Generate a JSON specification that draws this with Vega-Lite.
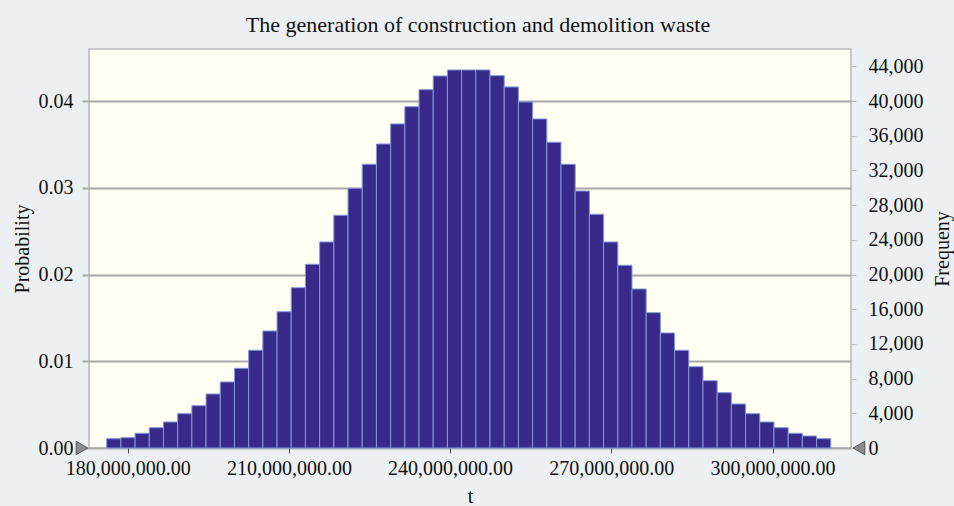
{
  "$schema": "https://vega.github.io/schema/vega-lite/v6.json",
  "autosize": "none",
  "width": 762,
  "height": 399,
  "padding": {"left": 89, "top": 49, "right": 103, "bottom": 58},
  "background": "#edf0f3",
  "config": {
    "font": "Liberation Serif",
    "view": {"fill": "#fefef3", "stroke": "#b8b8b8", "strokeWidth": 1.5},
    "axis": {"labelFont": "Liberation Serif", "titleFont": "Liberation Serif", "labelFontSize": 20, "titleFontSize": 20, "labelColor": "#111", "titleColor": "#111", "titleFontWeight": "normal", "labelOverlap": false}
  },
  "title": {
    "text": "The generation of construction and demolition waste",
    "fontSize": 22,
    "fontWeight": "normal",
    "font": "Liberation Serif",
    "color": "#111",
    "anchor": "middle",
    "frame": "group",
    "offset": 12,
    "dx": 8
  },
  "datasets": {
    "bins": [
      {"start": 176090000, "end": 178732000, "freq": 1072},
      {"start": 178732000, "end": 181374000, "freq": 1188},
      {"start": 181374000, "end": 184016000, "freq": 1695},
      {"start": 184016000, "end": 186658000, "freq": 2341},
      {"start": 186658000, "end": 189300000, "freq": 2998},
      {"start": 189300000, "end": 191942000, "freq": 3955},
      {"start": 191942000, "end": 194584000, "freq": 4877},
      {"start": 194584000, "end": 197226000, "freq": 6226},
      {"start": 197226000, "end": 199868000, "freq": 7610},
      {"start": 199868000, "end": 202510000, "freq": 9189},
      {"start": 202510000, "end": 205152000, "freq": 11265},
      {"start": 205152000, "end": 207794000, "freq": 13490},
      {"start": 207794000, "end": 210436000, "freq": 15716},
      {"start": 210436000, "end": 213078000, "freq": 18483},
      {"start": 213078000, "end": 215720000, "freq": 21181},
      {"start": 215720000, "end": 218362000, "freq": 23752},
      {"start": 218362000, "end": 221004000, "freq": 26830},
      {"start": 221004000, "end": 223646000, "freq": 29943},
      {"start": 223646000, "end": 226288000, "freq": 32711},
      {"start": 226288000, "end": 228930000, "freq": 35051},
      {"start": 228930000, "end": 231572000, "freq": 37357},
      {"start": 231572000, "end": 234214000, "freq": 39352},
      {"start": 234214000, "end": 236856000, "freq": 41312},
      {"start": 236856000, "end": 239498000, "freq": 42892},
      {"start": 239498000, "end": 242140000, "freq": 43583},
      {"start": 242140000, "end": 244782000, "freq": 43583},
      {"start": 244782000, "end": 247424000, "freq": 43583},
      {"start": 247424000, "end": 250066000, "freq": 42926},
      {"start": 250066000, "end": 252708000, "freq": 41623},
      {"start": 252708000, "end": 255350000, "freq": 39894},
      {"start": 255350000, "end": 257992000, "freq": 37934},
      {"start": 257992000, "end": 260634000, "freq": 35247},
      {"start": 260634000, "end": 263276000, "freq": 32711},
      {"start": 263276000, "end": 265918000, "freq": 29632},
      {"start": 265918000, "end": 268560000, "freq": 26946},
      {"start": 268560000, "end": 271202000, "freq": 23752},
      {"start": 271202000, "end": 273844000, "freq": 21065},
      {"start": 273844000, "end": 276486000, "freq": 18333},
      {"start": 276486000, "end": 279128000, "freq": 15600},
      {"start": 279128000, "end": 281770000, "freq": 13260},
      {"start": 281770000, "end": 284412000, "freq": 11265},
      {"start": 284412000, "end": 287054000, "freq": 9374},
      {"start": 287054000, "end": 289696000, "freq": 7760},
      {"start": 289696000, "end": 292338000, "freq": 6376},
      {"start": 292338000, "end": 294980000, "freq": 5073},
      {"start": 294980000, "end": 297622000, "freq": 3955},
      {"start": 297622000, "end": 300264000, "freq": 2998},
      {"start": 300264000, "end": 302906000, "freq": 2341},
      {"start": 302906000, "end": 305548000, "freq": 1695},
      {"start": 305548000, "end": 308190000, "freq": 1384},
      {"start": 308190000, "end": 310832000, "freq": 1072}
    ]
  },
  "layer": [
    {
      "data": {"values": [{"p": 0}]},
      "mark": {"type": "rule", "opacity": 0},
      "encoding": {
        "y": {
          "field": "p",
          "type": "quantitative",
          "scale": {"domain": [0, 0.046], "nice": false, "zero": true},
          "axis": {
            "orient": "left",
            "title": "Probability",
            "values": [0, 0.01, 0.02, 0.03, 0.04],
            "format": ".2f",
            "grid": true,
            "gridColor": "#a8a8a8",
            "gridWidth": 2,
            "domain": false,
            "ticks": true,
            "tickSize": 7,
            "tickColor": "#a8a8a8",
            "tickWidth": 2,
            "labelPadding": 9,
            "titlePadding": 6,
            "labelOverlap": false
          }
        }
      }
    },
    {
      "layer": [
        {
          "data": {"name": "bins"},
          "mark": {"type": "bar", "fill": "#382a89", "stroke": "#8596dc", "strokeWidth": 1},
          "encoding": {
            "x": {
              "field": "start",
              "type": "quantitative",
              "scale": {"domain": [172800000, 314600000], "nice": false, "zero": false},
              "axis": {
                "title": "t",
                "values": [180000000, 210000000, 240000000, 270000000, 300000000],
                "format": ",.2f",
                "grid": false,
                "domain": false,
                "tickSize": 5,
                "tickColor": "#444",
                "labelPadding": 5,
                "titlePadding": 8,
                "labelOverlap": false
              }
            },
            "x2": {"field": "end"},
            "y": {
              "field": "freq",
              "type": "quantitative",
              "scale": {"domain": [0, 46000], "nice": false},
              "axis": {
                "orient": "right",
                "title": "Frequeny",
                "titleAngle": 270,
                "titleBaseline": "top",
                "values": [0, 4000, 8000, 12000, 16000, 20000, 24000, 28000, 32000, 36000, 40000, 44000],
                "format": ",d",
                "grid": false,
                "domain": false,
                "tickSize": 5,
                "tickColor": "#bbbbbb",
                "labelPadding": 12,
                "titlePadding": 9,
                "labelOverlap": false
              }
            },
            "y2": {"datum": 0}
          }
        },
        {
          "data": {"values": [{"start": 172800000, "freq": 0}]},
          "mark": {"type": "point", "shape": "triangle-right", "filled": true, "fill": "#8c8c8c", "stroke": "#555", "strokeWidth": 1, "size": 180, "opacity": 1, "xOffset": -7},
          "encoding": {
            "x": {
              "field": "start",
              "type": "quantitative",
              "scale": {"domain": [172800000, 314600000], "nice": false, "zero": false},
              "axis": {
                "title": "t",
                "values": [180000000, 210000000, 240000000, 270000000, 300000000],
                "format": ",.2f",
                "grid": false,
                "domain": false,
                "tickSize": 5,
                "tickColor": "#444",
                "labelPadding": 5,
                "titlePadding": 8,
                "labelOverlap": false
              }
            },
            "y": {
              "field": "freq",
              "type": "quantitative",
              "scale": {"domain": [0, 46000], "nice": false},
              "axis": {
                "orient": "right",
                "title": "Frequeny",
                "titleAngle": 270,
                "titleBaseline": "top",
                "values": [0, 4000, 8000, 12000, 16000, 20000, 24000, 28000, 32000, 36000, 40000, 44000],
                "format": ",d",
                "grid": false,
                "domain": false,
                "tickSize": 5,
                "tickColor": "#bbbbbb",
                "labelPadding": 12,
                "titlePadding": 9,
                "labelOverlap": false
              }
            }
          }
        },
        {
          "data": {"values": [{"start": 314600000, "freq": 0}]},
          "mark": {"type": "point", "shape": "triangle-left", "filled": true, "fill": "#8c8c8c", "stroke": "#555", "strokeWidth": 1, "size": 180, "opacity": 1, "xOffset": 8},
          "encoding": {
            "x": {
              "field": "start",
              "type": "quantitative",
              "scale": {"domain": [172800000, 314600000], "nice": false, "zero": false},
              "axis": {
                "title": "t",
                "values": [180000000, 210000000, 240000000, 270000000, 300000000],
                "format": ",.2f",
                "grid": false,
                "domain": false,
                "tickSize": 5,
                "tickColor": "#444",
                "labelPadding": 5,
                "titlePadding": 8,
                "labelOverlap": false
              }
            },
            "y": {
              "field": "freq",
              "type": "quantitative",
              "scale": {"domain": [0, 46000], "nice": false},
              "axis": {
                "orient": "right",
                "title": "Frequeny",
                "titleAngle": 270,
                "titleBaseline": "top",
                "values": [0, 4000, 8000, 12000, 16000, 20000, 24000, 28000, 32000, 36000, 40000, 44000],
                "format": ",d",
                "grid": false,
                "domain": false,
                "tickSize": 5,
                "tickColor": "#bbbbbb",
                "labelPadding": 12,
                "titlePadding": 9,
                "labelOverlap": false
              }
            }
          }
        }
      ]
    }
  ],
  "resolve": {"scale": {"y": "independent"}}
}
